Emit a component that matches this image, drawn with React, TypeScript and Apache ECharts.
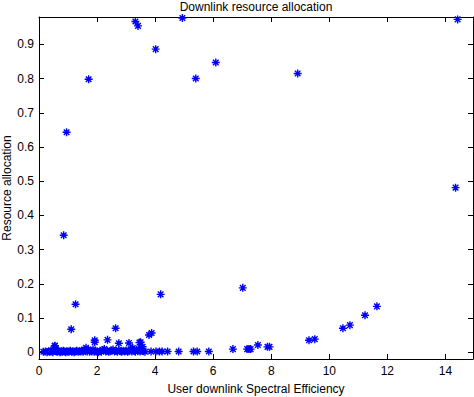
import React, { useEffect, useRef } from "react";
import * as echarts from "echarts";

const titleText = "Downlink resource allocation";
const xAxisTitle = "User downlink Spectral Efficiency";
const yAxisTitle = "Resource allocation";

const xTicks = [0, 2, 4, 6, 8, 10, 12, 14];
const yTicks = [0, 0.1, 0.2, 0.3, 0.4, 0.5, 0.6, 0.7, 0.8, 0.9];

// scattered high allocations
const highPoints: number[][] = [
  [0.85, 0.342], [0.95, 0.643], [1.71, 0.798], [3.32, 0.967], [3.41, 0.954],
  [4.02, 0.886], [4.94, 0.977], [5.40, 0.800], [6.09, 0.847], [8.91, 0.815],
  [14.42, 0.973], [14.35, 0.481], [7.02, 0.188],
];

// moderate allocations
const midPoints: number[][] = [
  [1.26, 0.140], [1.11, 0.067], [4.19, 0.169], [2.64, 0.070], [1.92, 0.035],
  [1.92, 0.029], [2.36, 0.036], [2.75, 0.026], [3.10, 0.027], [3.46, 0.028],
  [3.50, 0.029], [3.79, 0.050], [3.88, 0.056], [0.54, 0.018], [6.68, 0.009],
  [11.64, 0.134], [11.23, 0.108], [10.71, 0.079], [10.47, 0.070], [9.50, 0.038],
  [9.30, 0.035], [7.54, 0.021], [7.87, 0.0155], [7.94, 0.0155], [7.17, 0.009],
  [7.23, 0.009], [7.29, 0.009],
];

// near-zero allocations (dense band)
const lowPoints: number[][] = [
  [0.15, 0.001], [0.22, 0.002], [0.28, 0.000], [0.33, 0.003], [0.37, 0.001],
  [0.41, 0.004], [0.45, 0.002], [0.48, 0.000], [0.52, 0.005], [0.55, 0.019],
  [0.57, 0.008], [0.60, 0.003], [0.63, 0.001], [0.66, 0.004], [0.70, 0.002],
  [0.73, 0.000], [0.77, 0.003], [0.80, 0.001], [0.84, 0.004], [0.88, 0.002],
  [0.92, 0.000], [0.96, 0.003], [1.00, 0.001], [1.04, 0.002], [1.08, 0.004],
  [1.13, 0.001], [1.17, 0.003], [1.21, 0.000], [1.26, 0.002], [1.30, 0.004],
  [1.35, 0.001], [1.39, 0.003], [1.44, 0.002], [1.48, 0.005], [1.52, 0.001],
  [1.56, 0.007], [1.60, 0.003], [1.62, 0.013], [1.66, 0.002], [1.70, 0.006],
  [1.74, 0.001], [1.78, 0.004], [1.82, 0.002], [1.86, 0.008], [1.90, 0.001],
  [1.95, 0.003], [2.00, 0.002], [2.05, 0.000], [2.10, 0.004], [2.15, 0.001],
  [2.20, 0.006], [2.25, 0.009], [2.30, 0.002], [2.35, 0.004], [2.40, 0.001],
  [2.45, 0.003], [2.50, 0.005], [2.55, 0.008], [2.60, 0.002], [2.65, 0.004],
  [2.70, 0.001], [2.75, 0.006], [2.80, 0.003], [2.85, 0.001], [2.90, 0.004],
  [2.95, 0.002], [3.00, 0.005], [3.05, 0.001], [3.10, 0.003], [3.15, 0.008],
  [3.20, 0.002], [3.23, 0.012], [3.28, 0.004], [3.32, 0.001], [3.36, 0.006],
  [3.40, 0.003], [3.44, 0.009], [3.48, 0.002], [3.52, 0.005], [3.57, 0.016],
  [3.60, 0.003], [3.65, 0.001], [3.86, 0.002], [4.03, 0.002], [4.15, 0.002],
  [4.24, 0.002], [4.43, 0.002], [4.81, 0.002], [5.32, 0.002], [5.45, 0.002],
  [5.85, 0.002],
];

const X_MIN = 0;
const X_MAX = 14.95;
const Y_MIN = -0.02;
const Y_MAX = 0.98;

const FONT = "'Liberation Sans', Arial, Helvetica, sans-serif";
const asterisk = "path://M0,4L8,4M4,0L4,8M1.2,1.2L6.8,6.8M6.8,1.2L1.2,6.8";

export default function App() {
  const ref = useRef<HTMLDivElement>(null);
  useEffect(() => {
    if (!ref.current) return;
    const chart = echarts.init(ref.current, null, { renderer: "svg" });
    const axisCommon = {
      axisLine: { show: true, onZero: false, lineStyle: { color: "#000", width: 1 } },
      splitLine: { show: false },
    };
    const fmtY = (v: number) => String(+v.toFixed(1));
    chart.setOption({
      animation: false,
      backgroundColor: "#fff",
      grid: { left: 39, top: 17, right: 1, bottom: 38, containLabel: false },
      xAxis: [
        {
          type: "value", min: X_MIN, max: X_MAX, position: "bottom",
          ...axisCommon,
          axisTick: { show: true, inside: true, length: 5, customValues: xTicks, lineStyle: { color: "#000" } },
          axisLabel: { show: true, customValues: xTicks, margin: 6, color: "#000", fontSize: 12, fontFamily: FONT },
        },
        {
          type: "value", min: X_MIN, max: X_MAX, position: "top",
          ...axisCommon,
          axisTick: { show: true, inside: true, length: 5, customValues: xTicks, lineStyle: { color: "#000" } },
          axisLabel: { show: false },
        },
      ],
      yAxis: [
        {
          type: "value", min: Y_MIN, max: Y_MAX, position: "left",
          ...axisCommon,
          axisTick: { show: true, inside: true, length: 5, customValues: yTicks, lineStyle: { color: "#000" } },
          axisLabel: { show: true, customValues: yTicks, margin: 5, color: "#000", fontSize: 12, fontFamily: FONT, formatter: fmtY },
        },
        {
          type: "value", min: Y_MIN, max: Y_MAX, position: "right",
          ...axisCommon,
          axisTick: { show: true, inside: true, length: 5, customValues: yTicks, lineStyle: { color: "#000" } },
          axisLabel: { show: false },
        },
      ],
      graphic: [
        { type: "text", x: 256, y: 7, style: { text: titleText, fill: "#000", font: `12px ${FONT}`, textAlign: "center", textVerticalAlign: "middle" } },
        { type: "text", x: 256, y: 389, style: { text: xAxisTitle, fill: "#000", font: `12px ${FONT}`, textAlign: "center", textVerticalAlign: "middle" } },
        { type: "text", x: 7, y: 188, rotation: Math.PI / 2, style: { text: yAxisTitle, fill: "#000", font: `12px ${FONT}`, textAlign: "center", textVerticalAlign: "middle" } },
      ],
      series: [
        { name: "low", data: lowPoints },
        { name: "mid", data: midPoints },
        { name: "high", data: highPoints },
      ].map((s) => ({
        type: "scatter",
        name: s.name,
        data: s.data,
        xAxisIndex: 0,
        yAxisIndex: 0,
        symbol: asterisk,
        symbolSize: 8,
        itemStyle: { color: "none", borderColor: "#0000ff", borderWidth: 1.4, opacity: 1 },
        emphasis: { disabled: true },
      })),
    });
    return () => chart.dispose();
  }, []);
  return <div ref={ref} style={{ position: "fixed", left: 0, top: 0, width: 474, height: 397 }} />;
}
